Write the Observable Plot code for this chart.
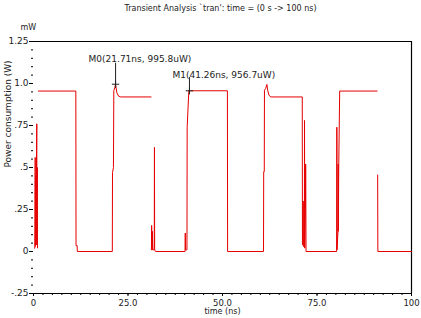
<!DOCTYPE html>
<html><head><meta charset="utf-8">
<script src="https://cdn.jsdelivr.net/npm/d3@7"></script>
<script src="https://cdn.jsdelivr.net/npm/@observablehq/plot@0.6"></script>
<style>body{margin:0;background:#fff}</style>
</head><body><div id="chart"></div>
<script>
// time (ns) and power (mW); NaN marks a gap in the drawn trace
const timeNs = [
  0.25, 0.35, 0.45, 0.5, 0.6, 0.7, 0.8, 0.87, 0.92, 1.0, 1.05, 1.1, NaN,
  1.3, 11.2, 11.25, 11.55, 11.6, 20.85, 20.9, 21.15, 21.25, 21.5, 21.71, 21.85, 22.05, 22.5, 23.1, 31.1, NaN,
  31.2, 31.25, 31.4, 31.45, 31.55, 31.6, 31.95, 32.0, 32.05, 32.3, 40.1, 40.15, 40.2, 40.6, 40.65, 41.1, 41.26, 51.3, 51.35,
  60.85, 60.9, 61.05, 61.1, 61.4, 61.75, 61.95, 62.3, 62.8, 71.1, 71.15, 71.3, 71.35, 71.4, 71.65, 71.7, 71.75, 71.95, 72.0, 72.05, 72.1,
  80.2, 80.25, 80.3, 80.55, 80.6, 80.65, 80.75, 81.0, 90.9, NaN,
  91.05, 91.1, 100
];
const powerMw = [
  0.02, 0.02, 0.56, 0.03, 0.45, 0.04, 0.6, 0.76, 0.04, 0.5, 0.02, 0.03, NaN,
  0.955, 0.955, 0.035, 0.035, 0, 0, 0.47, 0.5, 0.958, 0.975, 0.9958, 0.975, 0.945, 0.925, 0.92, 0.92, NaN,
  0.01, 0.155, 0.01, 0.12, 0.01, 0.01, 0.01, 0.62, 0.01, 0, 0, 0.11, 0.01, 0.01, 0.74, 0.957, 0.9567, 0.9567, 0,
  0, 0.475, 0.475, 0.96, 0.97, 0.994, 0.96, 0.93, 0.92, 0.92, 0.04, 0.04, 0.3, 0.03, 0.03, 0.78, 0.02, 0.3, 0.52, 0.3, 0,
  0, 0.74, 0.01, 0.12, 0.52, 0.12, 0.5, 0.955, 0.955, NaN,
  0.455, 0, 0
];

const yTicks = [1.25, 1.0, 0.75, 0.5, 0.25, 0, -0.25];
const yTickLabels = ["1.25", "1.0", ".75", ".5", ".25", "0", "-.25"];
const xTicks = [0, 25, 50, 75, 100];
const xTickLabels = ["0", "25.0", "50.0", "75.0", "100"];
const xDomain = [0, 100];
const yDomain = [-0.25, 1.25];

const markerNames = ["M0", "M1"];
const markerTimes = [21.71, 41.26];
const markerValues = [0.9958, 0.9567];
const markerTexts = ["M0(21.71ns, 995.8uW)", "M1(41.26ns, 956.7uW)"];

const titleText = "Transient Analysis `tran': time = (0 s -> 100 ns)";
const xLabel = "time (ns)";
const yLabel = "Power consumption (W)";
const unitLabel = "mW";

const trace = timeNs.map((t, i) => ({t, p: powerMw[i]}));
const markers = markerNames.map((n, i) => ({name: n, t: markerTimes[i], v: markerValues[i], label: markerTexts[i]}));
const yMinor = d3.range(0, 31).map(i => -0.25 + i * 0.05);
const xMinor = d3.range(0, 41).map(i => i * 2.5);

const font = "DejaVu Sans";
const ink = "#222";

const chart = Plot.plot({
  width: 421,
  height: 318,
  marginLeft: 33,
  marginRight: 10,
  marginTop: 41,
  marginBottom: 25,
  style: {background: "#fff", fontFamily: font, fontSize: "9px", color: ink},
  x: {domain: xDomain, label: null},
  y: {domain: yDomain, label: null},
  marks: [
    Plot.ruleY([yDomain[1]], {stroke: "#000", strokeWidth: 1.2}),
    Plot.ruleY([yDomain[0]], {stroke: "#000", strokeWidth: 1.2}),
    Plot.ruleX([xDomain[1]], {stroke: "#000", strokeWidth: 1.2}),
    Plot.axisY(yMinor, {tickSize: 2, tickFormat: () => "", stroke: "#000", label: null}),
    Plot.axisY(yTicks, {tickSize: 4, tickPadding: 1, stroke: "#000", fill: ink,
      tickFormat: d => yTickLabels[yTicks.indexOf(d)], label: null, fontSize: 9, fontFamily: font}),
    Plot.axisX(xMinor, {tickSize: 2, tickFormat: () => "", stroke: "#000", label: null}),
    Plot.axisX(xTicks, {tickSize: 3, tickPadding: 3, stroke: "#000", fill: ink,
      tickFormat: d => xTickLabels[xTicks.indexOf(d)], label: null, fontSize: 8.5, fontFamily: font}),
    Plot.line(trace, {x: "t", y: "p", stroke: "#e60000", strokeWidth: 1}),
    // marker 0
    Plot.ruleX(markers.filter(d => d.name === "M0"), {x: "t", y1: "v", y2: d => d.v + 0.125, stroke: "#222", strokeWidth: 1}),
    Plot.text(markers.filter(d => d.name === "M0"), {x: "t", y: "v", text: "label", textAnchor: "start", dx: -27, dy: -25, fill: ink, fontSize: 9, fontFamily: font}),
    // marker 1
    Plot.ruleX(markers.filter(d => d.name === "M1"), {x: "t", y1: "v", y2: d => d.v + 0.078, stroke: "#222", strokeWidth: 1}),
    Plot.text(markers.filter(d => d.name === "M1"), {x: "t", y: "v", text: "label", textAnchor: "start", dx: -17, dy: -16, fill: ink, fontSize: 9, fontFamily: font}),
    Plot.dot(markers, {x: "t", y: "v", symbol: "plus", r: 2.5, stroke: "#222", strokeWidth: 1}),
    // titles
    Plot.text([titleText], {frameAnchor: "top", dy: -36, dx: -2, fontSize: 8, fill: ink, fontFamily: font}),
    Plot.text([unitLabel], {frameAnchor: "top-left", dx: -13, dy: -17, textAnchor: "start", fontSize: 8, fill: ink, fontFamily: font}),
    Plot.text([yLabel], {frameAnchor: "left", dx: -25, rotate: -90, fontSize: 9, fill: ink, fontFamily: font}),
    Plot.text([xLabel], {frameAnchor: "bottom", dy: 20, fontSize: 8, fill: ink, fontFamily: font})
  ]
});
document.getElementById("chart").appendChild(chart);
</script>
</body></html>
